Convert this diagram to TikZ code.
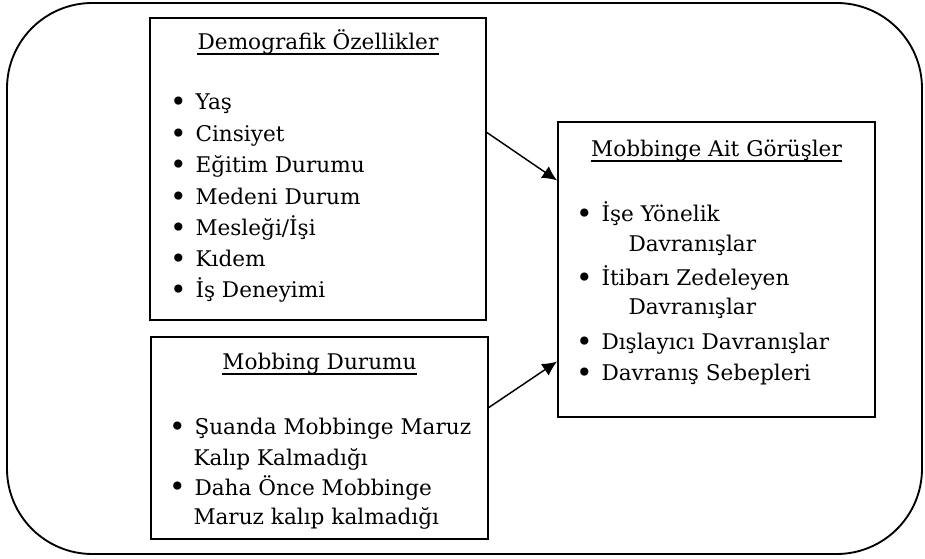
\documentclass[tikz,border=0pt]{standalone}
\usepackage{fontspec}
\setmainfont{DejaVu Serif}
\usetikzlibrary{arrows.meta,calc,fit}

\tikzset{every picture/.style={line width=0.75pt}}
\tikzset{
  box/.style={draw, line width=1.4pt, inner sep=0pt},
  txt/.style={inner sep=0pt, font=\fontsize{16.2}{19}\selectfont},
  item/.style={txt, anchor=base west},
  ttl/.style={txt, anchor=base},
  uline/.style={line width=1.1pt},
  link/.style={line width=1.1pt, -{Latex[length=11pt,width=10.5pt]}}
}
\newcommand{\bul}{\makebox[16.5pt][l]{\hspace*{-2.5pt}\raisebox{-0.1ex}{\scalebox{1.3}{\textbullet}}}}

\begin{document}
\begin{tikzpicture}[x=0.75pt,y=0.75pt,yscale=-1,xscale=1]
\useasboundingbox (0,0) rectangle (925,559);

\draw [line width=1.4pt, rounded corners=64pt] (7,3) rectangle (922,554) ;

\node [box, fit={(150,18) (486,320)}] (demo) {};
\node [box, fit={(151,337) (488,539)}] (durum) {};
\node [box, fit={(558,122) (875,417)}] (gorus) {};

\draw [link] ($(demo.north east)!0.38!(demo.south east)$) -- ($(gorus.north west)!0.2!(gorus.south west)$) ;
\draw [link] ($(durum.north east)!0.35!(durum.south east)$) -- ($(gorus.north west)!0.81!(gorus.south west)$) ;

\node [ttl] (t1) at (318,50) {Demografik Özellikler};
\draw [uline] ([yshift=3pt]t1.base west) -- ([yshift=3pt]t1.base east) ;
\node [item] (d1) at (173,110) {\bul Yaş};
\node [item] (d2) at (173,142) {\bul Cinsiyet};
\node [item] (d3) at (173,173) {\bul Eğitim Durumu};
\node [item] (d4) at (173,205) {\bul Medeni Durum};
\node [item] (d5) at (173,236) {\bul Mesleği/İşi};
\node [item] (d6) at (173,267) {\bul Kıdem};
\node [item] (d7) at (173,298) {\bul İş Deneyimi};

\node [ttl] (t2) at (319.5,370) {Mobbing Durumu};
\draw [uline] ([yshift=3pt]t2.base west) -- ([yshift=3pt]t2.base east) ;
\node [item] (m1) at (172,435) {\bul Şuanda Mobbinge Maruz};
\node [item] (m1b) at (193,465) {Kalıp Kalmadığı};
\node [item] (m2) at (172,495) {\bul Daha Önce Mobbinge};
\node [item] (m2b) at (193,525) {Maruz kalıp kalmadığı};

\node [ttl] (t3) at (716.5,157) {Mobbinge Ait Görüşler};
\draw [uline] ([yshift=3pt]t3.base west) -- ([yshift=3pt]t3.base east) ;
\node [item] (g1) at (579,222) {\bul İşe Yönelik};
\node [item] (g1b) at (628,252) {Davranışlar};
\node [item] (g2) at (579,286) {\bul İtibarı Zedeleyen};
\node [item] (g2b) at (628,315) {Davranışlar};
\node [item] (g3) at (579,350) {\bul Dışlayıcı Davranışlar};
\node [item] (g4) at (579,381) {\bul Davranış Sebepleri};

\end{tikzpicture}
\end{document}
